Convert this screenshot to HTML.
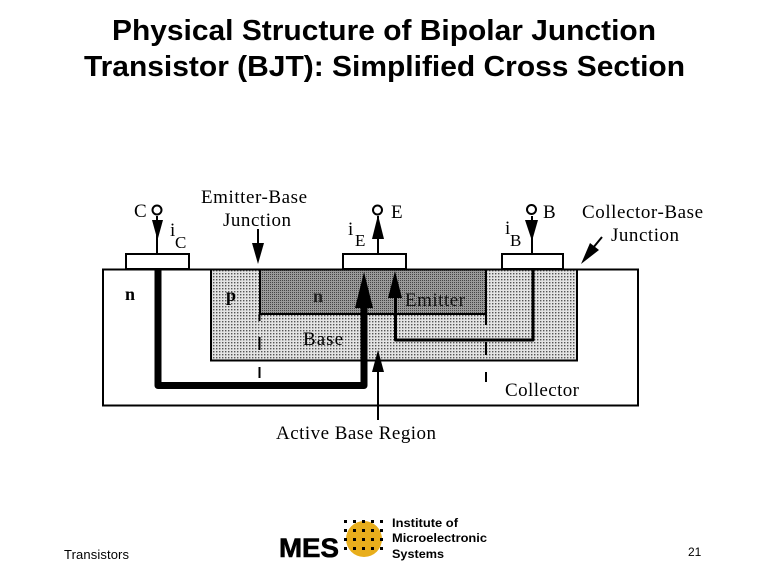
<!DOCTYPE html>
<html><head><meta charset="utf-8"><title>BJT Cross Section</title>
<style>html,body{margin:0;padding:0;background:#fff}svg{display:block}</style></head>
<body>
<svg width="768" height="576" viewBox="0 0 768 576" xmlns="http://www.w3.org/2000/svg">
<defs>
<pattern id="lt" width="3" height="3" patternUnits="userSpaceOnUse"><rect width="3" height="3" fill="#e4e4e4"/><rect width="1.4" height="1.4" fill="#555"/></pattern>
<pattern id="dk" width="2" height="2" patternUnits="userSpaceOnUse"><rect width="2" height="2" fill="#9a9a9a"/><rect width="1" height="1" fill="#444"/></pattern>
</defs>
<rect width="768" height="576" fill="#fff"/>
<g font-family="'Liberation Sans',sans-serif" font-weight="bold" font-size="29" fill="#000">
<text x="112" y="40" textLength="544" lengthAdjust="spacingAndGlyphs">Physical Structure of Bipolar Junction</text>
<text x="84" y="76" textLength="601" lengthAdjust="spacingAndGlyphs">Transistor (BJT): Simplified Cross Section</text>
</g>
<!-- regions -->
<rect x="103" y="269.500" width="535" height="136" fill="#fff" stroke="#000" stroke-width="2"/>
<rect x="211" y="269.500" width="366" height="91" fill="url(#lt)" stroke="#000" stroke-width="2"/>
<rect x="260" y="269.500" width="226" height="44.500" fill="url(#dk)" stroke="#000" stroke-width="2"/>
<!-- contacts -->
<g fill="#fff" stroke="#000" stroke-width="2">
<rect x="126" y="254" width="63" height="15"/>
<rect x="343" y="254" width="63" height="15"/>
<rect x="502" y="254" width="61" height="15"/>
</g>
<!-- labels -->
<g font-family="'Liberation Serif',serif" font-size="19" fill="#000">
<text x="201" y="203" textLength="106" lengthAdjust="spacing">Emitter-Base</text>
<text x="223" y="226" textLength="68" lengthAdjust="spacing">Junction</text>
<text x="582" y="218" textLength="121" lengthAdjust="spacing">Collector-Base</text>
<text x="611" y="241" textLength="68" lengthAdjust="spacing">Junction</text>
<text x="134" y="217">C</text>
<text x="391" y="218">E</text>
<text x="543" y="218">B</text>
<text x="170" y="236">i</text><text x="175" y="248" font-size="17">C</text>
<text x="348" y="235">i</text><text x="355" y="246" font-size="17">E</text>
<text x="505" y="234">i</text><text x="510" y="246" font-size="17">B</text>
<text x="125" y="300" font-weight="bold" font-size="18">n</text>
<text x="226" y="301" font-weight="bold" font-size="18">p</text>
<text x="313" y="302" font-weight="bold" font-size="18" fill="#222">n</text>
<text x="405" y="306" textLength="60" lengthAdjust="spacing" fill="#111">Emitter</text>
<text x="303" y="345" textLength="40" lengthAdjust="spacing">Base</text>
<text x="505" y="396" textLength="74" lengthAdjust="spacing">Collector</text>
<text x="276" y="439" textLength="160" lengthAdjust="spacing">Active Base Region</text>
</g>
<!-- terminals -->
<g stroke="#000" stroke-width="2" fill="none">
<path d="M157 216V254M378 216V254M532 216V254"/>
<circle cx="157" cy="210" r="4.500" fill="#fff"/>
<circle cx="377.500" cy="210" r="4.500" fill="#fff"/>
<circle cx="531.500" cy="209.500" r="4.500" fill="#fff"/>
<!-- junction dash lines -->
<path d="M259.500 314V321M259.500 337V350M259.500 367V378M486 314V325M486 342V355M486 372V382"/>
<!-- thin current -->
<path d="M395.500 285V340H533V269" stroke-width="3" stroke-linejoin="round"/>
<!-- thick current -->
<path d="M158 269V385.500H364V300" stroke-width="7" stroke-linejoin="round"/>
<!-- annotation lines -->
<path d="M258 229V245M378 372V420M602 237L588 254"/>
</g>
<!-- arrowheads -->
<g fill="#000">
<path d="M152 220H163L157.500 240Z"/>
<path d="M372 239H384L378 215Z"/>
<path d="M525 220H538L532 241Z"/>
<path d="M252 243H264L258 264Z"/>
<path d="M355 308H373L364 272Z"/>
<path d="M388 298H402L395 271Z"/>
<path d="M372 372H384L378 350Z"/>
<path d="M590 243L599 250L581 264Z"/>
</g>
<!-- footer -->
<g font-family="'Liberation Sans',sans-serif" fill="#000">
<text x="64" y="559" font-size="13" textLength="65" lengthAdjust="spacing">Transistors</text>
<text x="688" y="556" font-size="12">21</text>
<text x="279" y="557" font-size="27" font-weight="bold" stroke="#000" stroke-width="0.6" textLength="60" lengthAdjust="spacingAndGlyphs">MES</text>
<g font-size="12" font-weight="bold">
<text x="392" y="527" textLength="66" lengthAdjust="spacingAndGlyphs">Institute of</text>
<text x="392" y="542" textLength="95" lengthAdjust="spacingAndGlyphs">Microelectronic</text>
<text x="392" y="558" textLength="52" lengthAdjust="spacingAndGlyphs">Systems</text>
</g>
</g>
<circle cx="364" cy="539" r="18" fill="#e8ae1c"/>
<g fill="#000">
<rect x="344" y="520" width="3" height="3"/><rect x="353" y="520" width="3" height="3"/><rect x="362" y="520" width="3" height="3"/><rect x="371" y="520" width="3" height="3"/><rect x="380" y="520" width="3" height="3"/>
<rect x="344" y="529" width="3" height="3"/><rect x="353" y="529" width="3" height="3"/><rect x="362" y="529" width="3" height="3"/><rect x="371" y="529" width="3" height="3"/><rect x="380" y="529" width="3" height="3"/>
<rect x="344" y="538" width="3" height="3"/><rect x="353" y="538" width="3" height="3"/><rect x="362" y="538" width="3" height="3"/><rect x="371" y="538" width="3" height="3"/><rect x="380" y="538" width="3" height="3"/>
<rect x="344" y="547" width="3" height="3"/><rect x="353" y="547" width="3" height="3"/><rect x="362" y="547" width="3" height="3"/><rect x="371" y="547" width="3" height="3"/><rect x="380" y="547" width="3" height="3"/>
</g>
</svg>
</body></html>
